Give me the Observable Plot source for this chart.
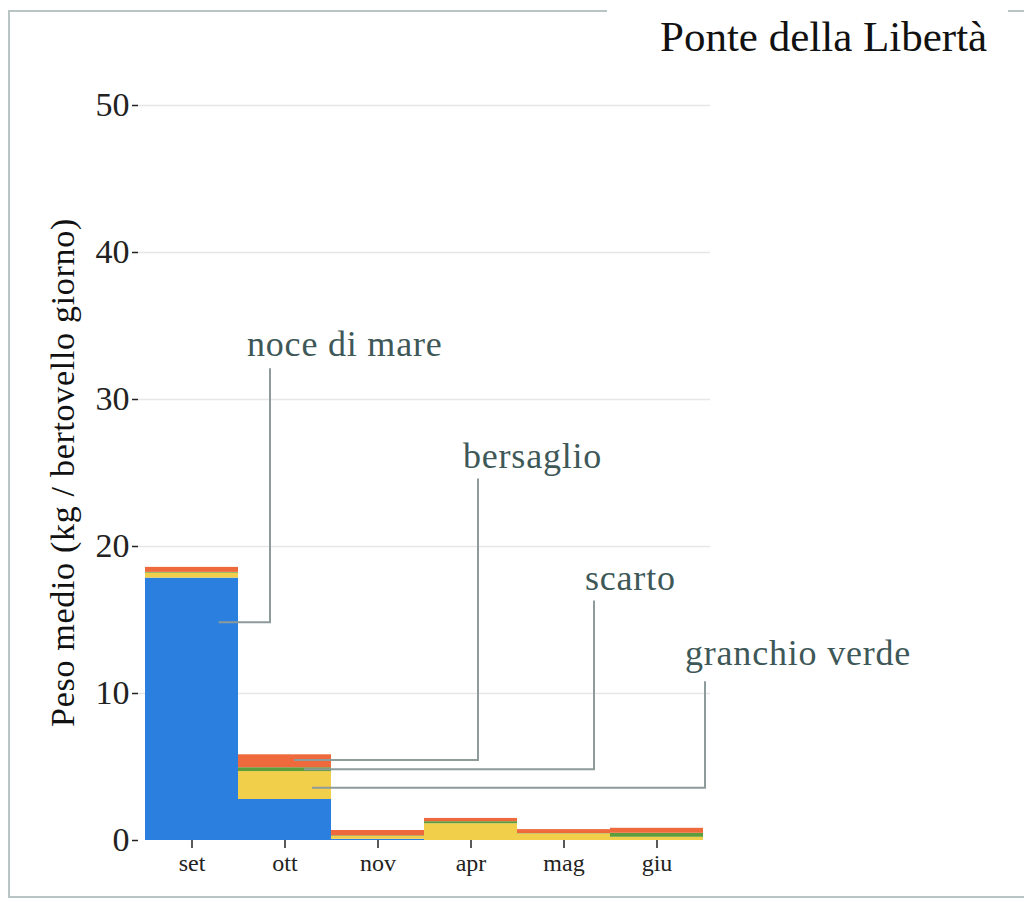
<!DOCTYPE html>
<html>
<head>
<meta charset="utf-8">
<script src="https://cdn.jsdelivr.net/npm/d3@7"></script>
<script src="https://cdn.jsdelivr.net/npm/@observablehq/plot@0.6"></script>
<style>
  html, body { margin: 0; padding: 0; background: #ffffff; }
  #wrap { position: relative; width: 1024px; height: 902px; overflow: hidden; }
  #frame { position: absolute; left: 8px; top: 10px; width: 1040px; height: 888px; border: 2px solid #b9c5c5; box-sizing: border-box; }
  #title { position: absolute; left: 607px; top: 8px; width: 401px; height: 70px; background: #ffffff;
           font-family: "Liberation Serif", serif; font-size: 43px; color: #111; }
  #title span { position: absolute; left: 53px; top: 4px; white-space: nowrap; }
  #chart { position: absolute; left: 0; top: 0; }
</style>
</head>
<body>
<div id="wrap">
  <div id="frame"></div>
  <div id="chart"></div>
  <div id="title"><span>Ponte della Libertà</span></div>
</div>
<script>
// ---- data ----
const months = ["set", "ott", "nov", "apr", "mag", "giu"];
const categories = ["noce di mare", "granchio verde", "scarto", "bersaglio"]; // stack order, bottom to top
const noceDiMare    = [17.85, 2.79, 0.08, 0.00, 0.00, 0.00];
const granchioVerde = [0.34, 1.90, 0.20, 1.14, 0.45, 0.22];
const scarto        = [0.05, 0.26, 0.04, 0.14, 0.02, 0.27];
const bersaglio     = [0.34, 0.88, 0.36, 0.22, 0.27, 0.34];
const yTicks = [0, 10, 20, 30, 40, 50];
const yLabel = "Peso medio (kg / bertovello giorno)";

// ---- styles ----
const colors = ["#2b7fdf", "#f2cf4b", "#5c9d3c", "#ee6a3c"];

const seriesByCat = {
  "noce di mare": noceDiMare,
  "granchio verde": granchioVerde,
  "scarto": scarto,
  "bersaglio": bersaglio
};
const table = [];
months.forEach((m, i) => {
  categories.forEach(c => table.push({month: m, category: c, value: seriesByCat[c][i]}));
});

// annotation layout (label placement)
const leaderLayout = [
  {category: "noce di mare",   month: "set", at: 0.83, textX: 247, lineX: 270, labelY: 32.9, lineTopY: 32.1, endDx: 75},
  {category: "bersaglio",      month: "ott", at: 0.55, textX: 463, lineX: 478, labelY: 25.3, lineTopY: 24.6, endDx: 57},
  {category: "scarto",         month: "ott", at: 0.5,  textX: 585, lineX: 594, labelY: 17.0, lineTopY: 16.3, endDx: 67},
  {category: "granchio verde", month: "ott", at: 0.4,  textX: 685, lineX: 705, labelY: 11.9, lineTopY: 10.8, endDx: 75}
];

const plot = Plot.plot({
  width: 1024,
  height: 902,
  marginLeft: 138,
  marginRight: 314,
  marginTop: 105,
  marginBottom: 62,
  style: {fontFamily: "Liberation Serif, serif", background: "transparent", color: "#222", overflow: "visible"},
  x: {domain: months, paddingInner: 0, paddingOuter: 0.06, label: null},
  y: {domain: [0, 50], label: null},
  color: {domain: categories, range: colors},
  marks: [
    Plot.gridY([10, 20, 30, 40, 50], {stroke: "#e6e6e6", strokeOpacity: 1, strokeWidth: 1.5}),
    Plot.barY(table, {x: "month", y: "value", fill: "category", order: categories, inset: 0}),
    Plot.axisY({ticks: yTicks, tickSize: 6, tickPadding: 3, fontSize: 34, label: null, tickFormat: d => String(d), strokeWidth: 1.5}),
    Plot.axisX({tickSize: 8, tickPadding: 5, fontSize: 24, label: null, strokeWidth: 1.5})
  ]
});
document.getElementById("chart").appendChild(plot);

// ---- annotations via the plot's own scales ----
const sx = plot.scale("x"), sy = plot.scale("y");
const xScale = d3.scaleBand().domain(sx.domain).range(sx.range)
  .paddingInner(sx.paddingInner ?? 0).paddingOuter(sx.paddingOuter ?? 0.06).align(sx.align ?? 0.5);
const yScale = d3.scaleLinear().domain(sy.domain).range(sy.range);

const svg = d3.select(plot);
const g = svg.append("g");

// y axis title
const yMid = (yScale(50) + yScale(0)) / 2;
g.append("text")
  .attr("transform", `translate(62,${yMid}) rotate(-90)`)
  .attr("text-anchor", "middle")
  .attr("dominant-baseline", "central")
  .attr("font-family", "Liberation Serif, serif")
  .attr("font-size", 34)
  .attr("letter-spacing", "0.7px")
  .attr("fill", "#111")
  .text(yLabel);

leaderLayout.forEach(a => {
  const mi = months.indexOf(a.month);
  const ci = categories.indexOf(a.category);
  let lower = 0;
  for (let k = 0; k < ci; k++) lower += seriesByCat[categories[k]][mi];
  const upper = lower + seriesByCat[a.category][mi];
  const ty = yScale(lower + a.at * (upper - lower));
  const ex = xScale(a.month) + a.endDx;
  g.append("path")
    .attr("d", `M${a.lineX},${yScale(a.lineTopY)}V${ty}H${ex}`)
    .attr("fill", "none")
    .attr("stroke", "#8d9b9b")
    .attr("stroke-width", 2);
  g.append("text")
    .attr("x", a.textX)
    .attr("y", yScale(a.labelY))
    .attr("text-anchor", "start")
    .attr("font-family", "Liberation Serif, serif")
    .attr("font-size", 36)
    .attr("letter-spacing", "0.8px")
    .attr("fill", "#3e5858")
    .text(a.category);
});
</script>
</body>
</html>
